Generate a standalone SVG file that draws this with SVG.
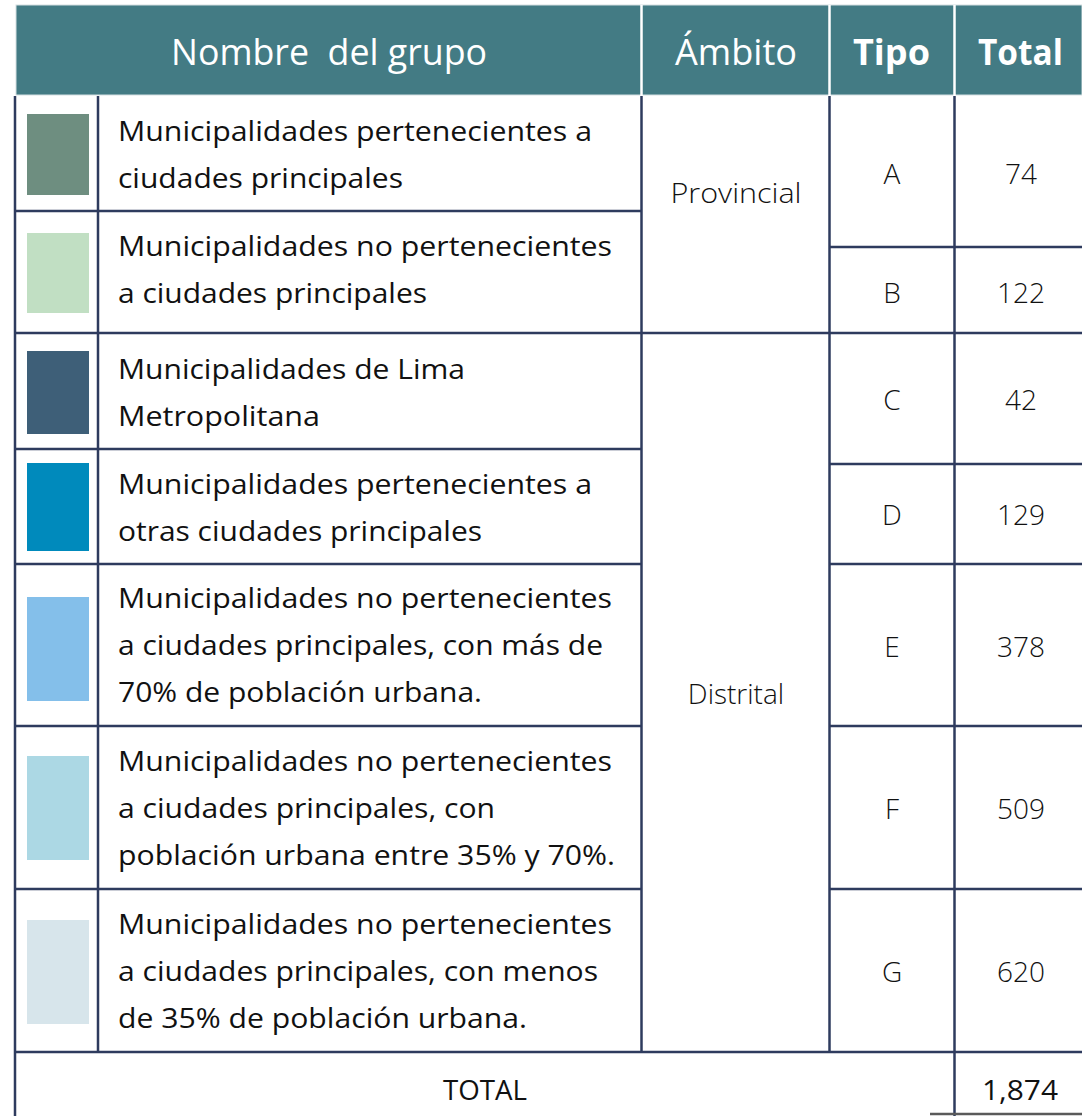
<svg xmlns="http://www.w3.org/2000/svg" width="1082" height="1116" viewBox="0 0 1082 1116">
<style>
.hd{fill:#ffffff;font-family:"Open Sans","Liberation Sans",sans-serif;}
.lt{font-weight:400;}
.bd{font-weight:700;}
.tx{fill:#111111;font-family:"Open Sans","Liberation Sans",sans-serif;font-size:28px;}
.num{fill:#111111;font-family:"Open Sans","Liberation Sans",sans-serif;font-size:28px;font-weight:300;text-anchor:middle;}
.ln{stroke:#2e3b5e;stroke-width:2.5;fill:none;}
.wl{stroke:#ffffff;stroke-width:2.5;}
</style>
<rect x="0" y="0" width="1082" height="1116" fill="#ffffff"/>
<g id="header">
<rect x="16" y="5" width="1066" height="90" fill="#437b84" stroke="#d5e0e2" stroke-width="1"/>
<line class="wl" x1="641.5" y1="5" x2="641.5" y2="96"/>
<line class="wl" x1="829.5" y1="5" x2="829.5" y2="96"/>
<line class="wl" x1="954.5" y1="5" x2="954.5" y2="96"/>
<text class="hd lt" x="171" y="65" font-size="37" textLength="316" lengthAdjust="spacingAndGlyphs" xml:space="preserve">Nombre  del grupo</text>
<text class="hd lt" x="675" y="65" font-size="37" textLength="122" lengthAdjust="spacingAndGlyphs">Ámbito</text>
<text class="hd bd" x="853" y="65" font-size="36" textLength="77" lengthAdjust="spacingAndGlyphs">Tipo</text>
<text class="hd bd" x="978" y="65" font-size="36" textLength="85" lengthAdjust="spacingAndGlyphs">Total</text>
</g>
<g id="grid">
<line class="ln" x1="15" y1="96" x2="15" y2="1116"/>
<line class="ln" x1="98" y1="96" x2="98" y2="1052"/>
<line class="ln" x1="641.5" y1="96" x2="641.5" y2="1052"/>
<line class="ln" x1="829.5" y1="96" x2="829.5" y2="1052"/>
<line class="ln" x1="954.5" y1="96" x2="954.5" y2="1116"/>
<line class="ln" x1="15" y1="211" x2="641" y2="211"/>
<line class="ln" x1="829" y1="247" x2="1082" y2="247"/>
<line class="ln" x1="15" y1="333" x2="1082" y2="333"/>
<line class="ln" x1="15" y1="449" x2="641" y2="449"/>
<line class="ln" x1="829" y1="464" x2="1082" y2="464"/>
<line class="ln" x1="15" y1="564" x2="641" y2="564"/>
<line class="ln" x1="829" y1="564" x2="1082" y2="564"/>
<line class="ln" x1="15" y1="726" x2="641" y2="726"/>
<line class="ln" x1="829" y1="726" x2="1082" y2="726"/>
<line class="ln" x1="15" y1="889" x2="641" y2="889"/>
<line class="ln" x1="829" y1="889" x2="1082" y2="889"/>
<line class="ln" x1="15" y1="1052" x2="1082" y2="1052"/>
<line x1="930" y1="1114" x2="1082" y2="1114" stroke="#5a5a5a" stroke-width="2.5"/>
</g>
<g id="row-a">
<rect x="27" y="114" width="62" height="81" fill="#6e8e80"/>
<text class="tx" x="118" y="141" textLength="474" lengthAdjust="spacingAndGlyphs">Municipalidades pertenecientes a</text>
<text class="tx" x="118" y="188" textLength="285" lengthAdjust="spacingAndGlyphs">ciudades principales</text>
</g>
<g id="row-b">
<rect x="27" y="233" width="62" height="80" fill="#c1dfc3"/>
<text class="tx" x="118" y="256" textLength="494" lengthAdjust="spacingAndGlyphs">Municipalidades no pertenecientes</text>
<text class="tx" x="118" y="303" textLength="309" lengthAdjust="spacingAndGlyphs">a ciudades principales</text>
</g>
<g id="row-c">
<rect x="27" y="351" width="62" height="83" fill="#3e5f78"/>
<text class="tx" x="118" y="379" textLength="347" lengthAdjust="spacingAndGlyphs">Municipalidades de Lima</text>
<text class="tx" x="118" y="426" textLength="202" lengthAdjust="spacingAndGlyphs">Metropolitana</text>
</g>
<g id="row-d">
<rect x="27" y="463" width="62" height="88" fill="#008abc"/>
<text class="tx" x="118" y="494" textLength="474" lengthAdjust="spacingAndGlyphs">Municipalidades pertenecientes a</text>
<text class="tx" x="118" y="541" textLength="364" lengthAdjust="spacingAndGlyphs">otras ciudades principales</text>
</g>
<g id="row-e">
<rect x="27" y="597" width="62" height="104" fill="#84bfea"/>
<text class="tx" x="118" y="608" textLength="494" lengthAdjust="spacingAndGlyphs">Municipalidades no pertenecientes</text>
<text class="tx" x="118" y="655" textLength="485" lengthAdjust="spacingAndGlyphs">a ciudades principales, con más de</text>
<text class="tx" x="118" y="702" textLength="364" lengthAdjust="spacingAndGlyphs">70% de población urbana.</text>
</g>
<g id="row-f">
<rect x="27" y="756" width="62" height="104" fill="#acd8e4"/>
<text class="tx" x="118" y="771" textLength="494" lengthAdjust="spacingAndGlyphs">Municipalidades no pertenecientes</text>
<text class="tx" x="118" y="818" textLength="377" lengthAdjust="spacingAndGlyphs">a ciudades principales, con</text>
<text class="tx" x="118" y="865" textLength="497" lengthAdjust="spacingAndGlyphs">población urbana entre 35% y 70%.</text>
</g>
<g id="row-g">
<rect x="27" y="920" width="62" height="104" fill="#d7e5eb"/>
<text class="tx" x="118" y="934" textLength="494" lengthAdjust="spacingAndGlyphs">Municipalidades no pertenecientes</text>
<text class="tx" x="118" y="981" textLength="480" lengthAdjust="spacingAndGlyphs">a ciudades principales, con menos</text>
<text class="tx" x="118" y="1028" textLength="409" lengthAdjust="spacingAndGlyphs">de 35% de población urbana.</text>
</g>
<g id="ambito">
<text class="num" x="736" y="203" textLength="131" lengthAdjust="spacingAndGlyphs">Provincial</text>
<text class="num" x="736" y="704">Distrital</text>
</g>
<g id="tipo">
<text class="num" x="892" y="184">A</text>
<text class="num" x="892" y="303">B</text>
<text class="num" x="892" y="410">C</text>
<text class="num" x="892" y="525">D</text>
<text class="num" x="892" y="657">E</text>
<text class="num" x="892" y="819">F</text>
<text class="num" x="892" y="982">G</text>
</g>
<g id="totales">
<text class="num" x="1021" y="184">74</text>
<text class="num" x="1021" y="303">122</text>
<text class="num" x="1021" y="410">42</text>
<text class="num" x="1021" y="525">129</text>
<text class="num" x="1021" y="657">378</text>
<text class="num" x="1021" y="819">509</text>
<text class="num" x="1021" y="982">620</text>
</g>
<g id="total-row">
<text class="num" style="font-weight:400" x="485" y="1100" textLength="84" lengthAdjust="spacingAndGlyphs">TOTAL</text>
<text class="num" style="font-weight:400" x="1020" y="1100" textLength="76" lengthAdjust="spacingAndGlyphs">1,874</text>
</g>
</svg>
